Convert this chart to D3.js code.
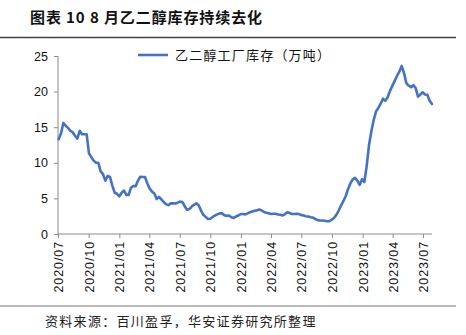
<!DOCTYPE html>
<html><head><meta charset="utf-8">
<script src="https://cdn.jsdelivr.net/npm/d3@7"></script>
<style>
html,body{margin:0;padding:0;background:#fff;}
svg{display:block;}
</style></head>
<body>
<svg id="chart" width="466" height="335"></svg>
<script>
// ---- data ----
const title = "图表 10 8 月乙二醇库存持续去化";
const seriesName = "乙二醇工厂库存（万吨）";
const source = "资料来源：百川盈孚，华安证券研究所整理";
const startDate = "2020-07-03"; // weekly observations
const inventory = [
13.3,14.1,15.6,15.2,14.9,14.5,14.3,13.8,13.4,14.5,
14.0,14.0,14.0,11.3,10.8,10.3,10.0,10.0,8.8,8.4,
7.5,8.15,8.0,6.8,5.8,5.65,5.3,5.8,6.1,5.5,
5.5,6.5,6.75,6.7,7.5,8.05,8.0,8.0,7.1,6.4,
5.95,5.7,4.9,5.2,4.85,4.5,4.2,4.05,4.3,4.3,
4.3,4.4,4.55,4.5,3.9,3.4,3.5,3.85,4.1,4.3,
4.05,3.3,2.7,2.4,2.1,2.15,2.4,2.6,2.75,2.9,
2.9,2.65,2.55,2.6,2.35,2.25,2.45,2.6,2.8,2.8,
2.75,2.9,3.05,3.15,3.25,3.35,3.45,3.3,3.1,3.0,
2.9,2.8,2.85,2.85,2.75,2.7,2.6,2.8,3.05,2.95,
2.8,2.8,2.85,2.8,2.65,2.6,2.5,2.45,2.35,2.3,
2.1,1.95,1.9,1.9,1.85,1.8,1.8,2.0,2.25,2.7,
3.3,4.0,4.6,5.3,6.3,7.1,7.65,7.9,7.5,6.9,
7.7,7.3,9.5,12.5,14.4,16.0,17.2,17.7,18.3,19.0,
18.7,19.2,20.1,20.8,21.5,22.2,22.8,23.6,22.6,21.2,
20.85,20.6,20.9,20.5,19.3,19.6,19.9,19.6,19.55,18.7,
18.25];
const yTicks = [0,5,10,15,20,25];
const xTickLabels = ["2020/07","2020/10","2021/01","2021/04","2021/07","2021/10","2022/01","2022/04","2022/07","2022/10","2023/01","2023/04","2023/07"];

// ---- build ----
const parse = d3.timeParse("%Y-%m-%d");
const t0 = parse(startDate);
const data = inventory.map((v,i)=>({date:d3.timeDay.offset(t0,i*7), value:v}));
const tickDates = xTickLabels.map(s=>d3.timeParse("%Y/%m")(s));

const svg = d3.select("#chart");
const x = d3.scaleTime().domain([tickDates[0], tickDates[tickDates.length-1]]).range([58,423]);
const y = d3.scaleLinear().domain([0,25]).range([234,56]);
const axisColor = "#8c8c8c";

// title
svg.append("text").attr("x",30).attr("y",23)
  .attr("font-family","'Noto Sans CJK SC', 'Liberation Sans', sans-serif")
  .attr("font-weight","bold").attr("font-size",15).attr("fill","#111")
  .attr("letter-spacing",0.9)
  .text(title);
svg.append("line").attr("x1",0).attr("x2",456).attr("y1",37.5).attr("y2",37.5)
  .attr("stroke","#444").attr("stroke-width",1.3);

// y axis
const yAxis = svg.append("g").attr("transform","translate(58,0)")
  .call(d3.axisLeft(y).tickValues(yTicks).tickSize(4).tickPadding(6).tickFormat(d3.format("d")));
yAxis.select(".domain").attr("stroke",axisColor).attr("d","M0,56V234");
yAxis.selectAll(".tick line").attr("stroke",axisColor);
yAxis.selectAll(".tick text").attr("font-family","'Liberation Sans', Arial, sans-serif")
  .attr("font-size",12.5).attr("fill","#111");

// x axis
const xAxis = svg.append("g").attr("transform","translate(0,234)")
  .call(d3.axisBottom(x).tickValues(tickDates).tickSize(4).tickFormat((d,i)=>xTickLabels[i]));
xAxis.select(".domain").attr("stroke",axisColor).attr("d","M58,0H432");
xAxis.selectAll(".tick line").attr("stroke",axisColor);
xAxis.selectAll(".tick text")
  .attr("font-family","'Liberation Sans', Arial, sans-serif")
  .attr("font-size",12.5).attr("fill","#111")
  .attr("letter-spacing",0.9)
  .attr("text-anchor","end")
  .attr("transform","rotate(-90)")
  .attr("x",-7).attr("y",0).attr("dy","0.35em");

// line
svg.append("path").datum(data)
  .attr("fill","none").attr("stroke","#4472C4").attr("stroke-width",2.6)
  .attr("stroke-linejoin","round").attr("stroke-linecap","round")
  .attr("d", d3.line().x(d=>x(d.date)).y(d=>y(d.value)));

// legend
svg.append("line").attr("x1",138).attr("x2",168).attr("y1",55).attr("y2",55)
  .attr("stroke","#4472C4").attr("stroke-width",2.6);
svg.append("text").attr("x",175).attr("y",60)
  .attr("font-family","'Noto Sans CJK SC', sans-serif").attr("font-size",13)
  .attr("letter-spacing",1.2).attr("fill","#111").text(seriesName);

// bottom rule and source
svg.append("line").attr("x1",0).attr("x2",456).attr("y1",306).attr("y2",306)
  .attr("stroke","#777").attr("stroke-width",1);
svg.append("text").attr("x",45).attr("y",326)
  .attr("font-family","'Noto Sans CJK SC', sans-serif").attr("font-size",13)
  .attr("letter-spacing",1.3).attr("fill","#222").text(source);
</script>
</body></html>
